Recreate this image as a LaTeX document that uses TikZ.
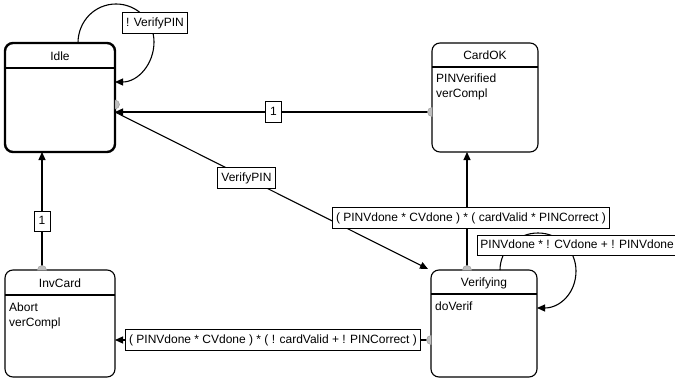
\documentclass[tikz,border=0pt]{standalone}
\usepackage{fontspec}
\setmainfont{Liberation Sans}
\usetikzlibrary{arrows.meta,backgrounds}

\begin{document}
\begin{tikzpicture}[x=1pt,y=-1pt,
  txt/.style={font=\fontsize{12}{14}\selectfont},
  statebox/.style={draw, rounded corners=8pt, fill=white, line width=1.1pt,
    inner sep=0pt, outer sep=0pt, minimum width=106pt, minimum height=109pt},
  mainstate/.style={statebox, line width=2.4pt, minimum width=110pt},
  sttitle/.style={txt, inner sep=0pt},
  stbody/.style={font=\fontsize{12}{15}\selectfont, inner sep=0pt, anchor=north west, align=left},
  lbl/.style={txt, draw, fill=white, line width=0.9pt, inner xsep=4pt,
    inner ysep=4.5pt, text height=9pt, text depth=2.5pt},
  conn/.style={line width=1.1pt, -{Triangle[length=8pt,width=7pt]}},
  srcmark/.style={fill=gray!50, draw=gray!75, line width=0.5pt},
]
\useasboundingbox (0,0) rectangle (675,380);
\begin{scope}[on background layer]
  \fill[white] (0,0) rectangle (675,380);
\end{scope}

% states
\node[mainstate] (idle)   at (60,97.5)  {};
\node[statebox]  (cardok) at (485,97.5) {};
\node[statebox, minimum width=110pt, minimum height=107pt] (invcard) at (60,323.5) {};
\node[statebox, minimum height=107pt] (verif) at (484,323.5) {};

% titles, separators and actions
\node[sttitle] (idleT) at (60,56) {Idle};
\draw[line width=1.1pt] ([yshift=-25pt]idle.north west) -- ([yshift=-25pt]idle.north east);

\node[sttitle] (cardokT) at (485,55.5) {CardOK};
\draw[line width=1.1pt] ([yshift=-24pt]cardok.north west) -- ([yshift=-24pt]cardok.north east);
\node[stbody] (cardokB) at (436,74) {PINVerified\\verCompl};

\node[sttitle] (invcardT) at (60,283) {InvCard};
\draw[line width=1.1pt] ([yshift=-25pt]invcard.north west) -- ([yshift=-25pt]invcard.north east);
\node[stbody] (invcardB) at (9,303) {Abort\\verCompl};

\node[sttitle] (verifT) at (484,283) {Verifying};
\draw[line width=1.1pt] ([yshift=-24pt]verif.north west) -- ([yshift=-24pt]verif.north east);
\node[stbody] (verifB) at (435,302) {doVerif};

% attachment points
\coordinate (idleSrc)  at ([yshift=-7pt]idle.east);
\coordinate (idleIn)   at ([yshift=-14.5pt]idle.east);
\coordinate (cardokW)  at ([yshift=-14.5pt]cardok.west);
\coordinate (verifN)   at ([xshift=-17pt]verif.north);
\coordinate (verifW)   at ([yshift=-16.5pt]verif.west);
\coordinate (invcardN) at ([xshift=-18pt]invcard.north);
\coordinate (verifTL)  at ([xshift=-3pt,yshift=1pt]verif.north west);

% transitions
\draw[conn] ([xshift=18pt]idle.north)
  .. controls (78,21) and (95,4) .. (116,4)
  .. controls (137,4) and (154,21) .. (154,42)
  .. controls (154,64) and (138,82) .. ([yshift=15.5pt]idle.east)
  node[lbl] at (155,23) {! VerifyPIN};

\draw[conn] (cardokW) -- (cardokW -| idle.east)
  node[lbl, midway, minimum width=16pt] {1};

\draw[conn] (idleIn) -- (verifTL)
  node[lbl, pos=0.42] {VerifyPIN};

\draw[conn] (verifN) -- (verifN |- cardok.south)
  node[lbl, pos=0.44, xshift=4pt] {( PINVdone * CVdone ) * ( cardValid * PINCorrect )};

\draw[conn] ([xshift=16pt]verif.north)
  .. controls (500,250) and (517,233) .. (538,233)
  .. controls (559,233) and (576,250) .. (576,271)
  .. controls (576,293) and (560,308) .. ([yshift=15.5pt]verif.east)
  node[lbl, anchor=west, inner xsep=3pt] at (477,245.5) {PINVdone * ! CVdone + ! PINVdone};

\draw[conn] (invcardN) -- (invcardN |- idle.south)
  node[lbl, pos=0.41, minimum width=16pt] {1};

\draw[conn] (verifW) -- (verifW -| invcard.east)
  node[lbl, midway] {( PINVdone * CVdone ) * ( ! cardValid + ! PINCorrect )};

% source markers: small half discs on the outside of the border
\filldraw[srcmark] (idleSrc) ++(0,-4.5) arc[start angle=-90, end angle=90, radius=4.5] -- cycle;
\filldraw[srcmark] (cardokW) ++(0,-4.5) arc[start angle=-90, end angle=-270, radius=4.5] -- cycle;
\filldraw[srcmark] (verifW) ++(0,-4.5) arc[start angle=-90, end angle=-270, radius=4.5] -- cycle;
\filldraw[srcmark] (verifN) ++(-4.5,0) arc[start angle=180, end angle=360, radius=4.5] -- cycle;
\filldraw[srcmark] (invcardN) ++(-4.5,0) arc[start angle=180, end angle=360, radius=4.5] -- cycle;
\end{tikzpicture}
\end{document}
